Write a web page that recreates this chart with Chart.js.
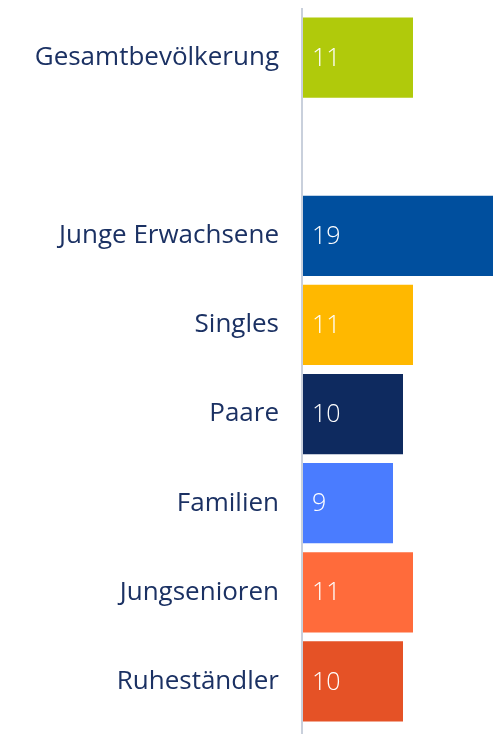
<!DOCTYPE html>
<html><head><meta charset="utf-8">
<script src="https://cdn.jsdelivr.net/npm/chart.js@4"></script>
<style>html,body{margin:0;padding:0;background:#fff}#wrap{width:493px;height:734px;position:relative}</style>
</head><body><div id="wrap"><canvas id="c"></canvas></div>
<script>
const categories = ['Gesamtbevölkerung', '', 'Junge Erwachsene', 'Singles', 'Paare', 'Familien', 'Jungsenioren', 'Ruheständler'];
const values = [11, null, 19, 11, 10, 9, 11, 10];
const barColors = ['#b0ca0b', '#ffffff', '#004f9e', '#ffb800', '#0e2a5f', '#4a7cff', '#ff6b3b', '#e55226'];
const xMax = 19;

const FONT = "'Open Sans', sans-serif";
const TEXT = '#1b3163';

const valueLabels = {
  id: 'valueLabels',
  afterDatasetsDraw(chart) {
    const ctx = chart.ctx;
    const meta = chart.getDatasetMeta(0);
    ctx.save();
    ctx.fillStyle = '#ffffff';
    ctx.font = '300 25px ' + FONT;
    ctx.textAlign = 'left';
    ctx.textBaseline = 'middle';
    meta.data.forEach((el, i) => {
      const v = values[i];
      if (v === null || v === undefined) return;
      ctx.fillText(String(v), el.base + 9, el.y + 1);
    });
    ctx.restore();
  }
};

const axisLine = {
  id: 'axisLine',
  afterDraw(chart) {
    const ctx = chart.ctx;
    const x = chart.scales.x.left - 1;
    ctx.save();
    ctx.strokeStyle = '#c9d0dc';
    ctx.lineWidth = 2;
    ctx.beginPath();
    ctx.moveTo(x, chart.chartArea.top - 5);
    ctx.lineTo(x, chart.chartArea.bottom + 8);
    ctx.stroke();
    ctx.restore();
  }
};

new Chart(document.getElementById('c'), {
  type: 'bar',
  data: {
    labels: categories,
    datasets: [{
      data: values,
      backgroundColor: barColors,
      borderWidth: 0,
      categoryPercentage: 0.9,
      barPercentage: 1.0
    }]
  },
  options: {
    indexAxis: 'y',
    responsive: true,
    maintainAspectRatio: false,
    animation: false,
    layout: { padding: { top: 13, bottom: 8, left: 0, right: 0 } },
    plugins: { legend: { display: false }, tooltip: { enabled: false } },
    scales: {
      x: {
        display: false,
        min: 0,
        max: xMax
      },
      y: {
        afterFit(scale) { scale.width = 303; },
        grid: { display: true, drawOnChartArea: false, drawTicks: true, tickLength: 24, tickColor: 'rgba(0,0,0,0)' },
        border: { display: false },
        ticks: {
          color: TEXT,
          padding: 0,
          font: { family: FONT, size: 26, weight: 400, lineHeight: 0.4 }
        }
      }
    }
  },
  plugins: [valueLabels, axisLine]
});
</script>
</body></html>
